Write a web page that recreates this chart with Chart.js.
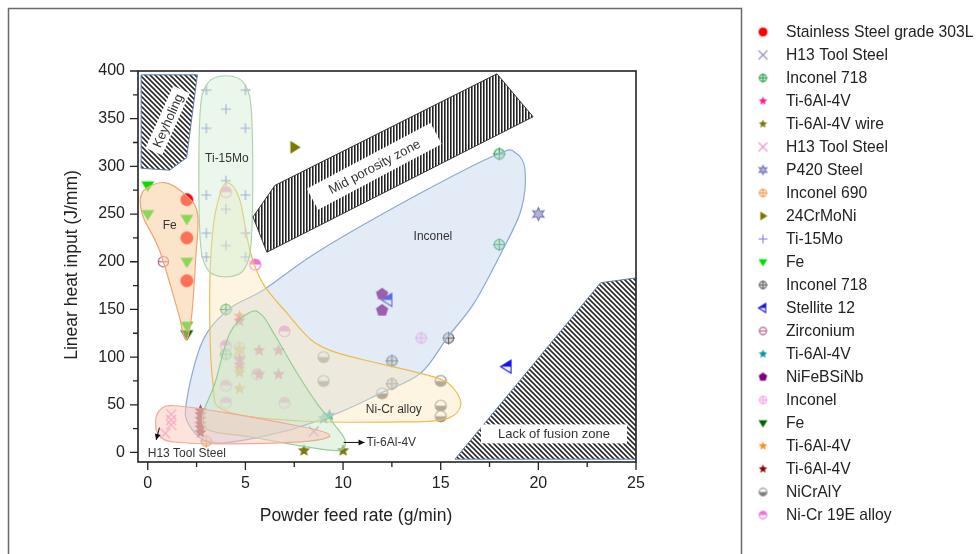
<!DOCTYPE html>
<html>
<head>
<meta charset="utf-8">
<script src="https://cdn.jsdelivr.net/npm/chart.js@4.4.1/dist/chart.umd.min.js"></script>
<style>
  html, body { margin: 0; padding: 0; background: #fff; }
  #wrap { width: 979px; height: 554px; }
</style>
</head>
<body>
<div id="wrap"><canvas id="chart" width="979" height="554"></canvas></div>
<script>
// ---- data: [powder feed rate g/min, linear heat input J/mm]
const ss303L = [[2, 265], [2, 225], [2, 180]];
const h13Lavender = [[8.5, 22]];
const inconel718Green = [[4, 150], [4, 103], [18, 313], [18, 218]];
const ti64Pink = [[4.7, 138], [4.7, 98], [4.7, 92], [5.7, 107], [6.7, 107], [5.7, 82], [6.7, 82]];
const ti64Wire = [[8, 2], [10, 2]];
const h13Pink = [[1.2, 40], [1.2, 34], [1.2, 29], [0.9, 20]];
const p420 = [[20, 250]];
const inconel690 = [[4.7, 110], [4.7, 101], [3, 12]];
const crMoNi24 = [[7.5, 320]];
const ti15Mo = [[3, 380], [5, 380], [4, 360], [3, 340], [5, 340], [4, 285], [3, 270], [5, 270],
  [4, 255], [3, 230], [5, 230], [4, 217], [3, 205], [5, 205]];
const feBright = [[0, 280], [0, 250], [2, 245], [2, 200], [2, 133]];
const inconel718Gray = [[12.5, 96], [12.5, 72], [15.4, 120]];
const stellite12 = [[12.3, 160], [18.4, 90]];
const zirconium = [[0.8, 200]];
const ti64Teal = [[9, 36], [9.3, 39]];
const niFeBSiNb = [[12, 166], [12, 149]];
const inconelPink = [[14, 120]];
const feDark = [[2, 124]];
const ti64Orange = [[4.7, 143], [4.7, 108], [4.7, 88], [4.7, 84], [4.7, 67]];
const ti64DarkRed = [[2.7, 44], [2.7, 40], [2.7, 35], [2.7, 30], [2.7, 26], [2.7, 21]];
const niCrAlY = [[9, 100], [9, 75], [12, 62], [15, 75], [15, 49], [15, 38]];
const niCr19E = [[4, 273], [5.5, 197], [7, 127], [4, 112], [4, 70], [4, 52], [7, 52], [5.6, 82]];

const seriesLabels = ['Stainless Steel grade 303L', 'H13 Tool Steel', 'Inconel 718', 'Ti-6Al-4V',
  'Ti-6Al-4V wire', 'H13 Tool Steel', 'P420 Steel', 'Inconel 690', '24CrMoNi', 'Ti-15Mo', 'Fe',
  'Inconel 718', 'Stellite 12', 'Zirconium', 'Ti-6Al-4V', 'NiFeBSiNb', 'Inconel', 'Fe',
  'Ti-6Al-4V', 'Ti-6Al-4V', 'NiCrAlY', 'Ni-Cr 19E alloy'];
const seriesData = [ss303L, h13Lavender, inconel718Green, ti64Pink, ti64Wire, h13Pink, p420,
  inconel690, crMoNi24, ti15Mo, feBright, inconel718Gray, stellite12, zirconium, ti64Teal,
  niFeBSiNb, inconelPink, feDark, ti64Orange, ti64DarkRed, niCrAlY, niCr19E];

const xTicks = [0, 5, 10, 15, 20, 25];
const yTicks = [0, 50, 100, 150, 200, 250, 300, 350, 400];
const xTitle = 'Powder feed rate (g/min)';
const yTitle = 'Linear heat input (J/mm)';

// ---- marker look per series
const markerKinds = ['circle', 'x', 'oplus', 'star', 'star', 'x', 'star6', 'oplus', 'triR', 'plus', 'triD',
  'oplus', 'triL', 'ominus', 'star', 'pentagon', 'oplus', 'triD', 'star', 'star', 'halfBottom', 'halfTop'];
const markerColors = ['#ff0000', '#8c8cc8', '#2fa552', '#ff1f8f', '#7a7a10', '#f58cc8', '#7474b8', '#f0a060',
  '#7a7a00', '#7c7cdc', '#00e000', '#666666', '#1414e0', '#b05a8a', '#009a9a', '#800080', '#f5a8e8',
  '#006400', '#ff8c1a', '#8b0000', '#808080', '#f070d8'];

// ---- annotation regions (data units)
const blobs = [
  { fill: 'rgba(190,210,236,0.45)', line: 'rgba(140,170,212,1)', pts: [[17.93, 313], [18.85, 314], [19.32, 296], [19.11, 254],
    [18.09, 209], [16.69, 156], [15.36, 121], [13.97, 83], [11.91, 62], [9.7, 41], [6.77, 21], [3.43, 10], [2.14, 28],
    [1.99, 54], [2.81, 117], [4.2, 151], [5.9, 170], [8.83, 212], [13.97, 272]] },
  { fill: 'rgba(250,232,185,0.42)', line: 'rgba(236,188,80,1)', pts: [[4.1, 283], [4.71, 265], [5.23, 212], [5.9, 177],
    [7.13, 146], [8.31, 119], [9.34, 107], [10.88, 98], [13.97, 83], [15.36, 73], [16.03, 51], [15.25, 35],
    [12.94, 32], [7.8, 33], [3.94, 44], [3.33, 75], [3.17, 160], [3.33, 233], [3.69, 270]] },
  { fill: 'rgba(198,230,198,0.45)', line: 'rgba(150,205,150,1)', pts: [[5.23, 147], [5.85, 144], [6.51, 123], [7.65, 83],
    [8.68, 51], [9.6, 28], [10.11, 12], [9.76, 2], [7.8, 7], [5.23, 16.5], [3.17, 23], [2.81, 39], [3.43, 72], [4.2, 125]] },
  { fill: 'rgba(250,200,185,0.5)', line: 'rgba(242,170,150,1)', pts: [[0.4, 30], [0.6, 44], [1.37, 49], [4.2, 41],
    [7.65, 28], [9.09, 21], [9.19, 15.5], [7.8, 11], [4.2, 9], [1.37, 11], [0.6, 17.6]] },
  { fill: 'rgba(208,238,208,0.45)', line: 'rgba(175,212,175,1)', pts: [[4, 395], [4.97, 386], [5.33, 349], [5.33, 233],
    [4.97, 193], [4, 184], [3.02, 193], [2.66, 233], [2.66, 349], [3.02, 386]] },
  { fill: 'rgba(250,205,160,0.55)', line: 'rgba(242,165,115,1)', pts: [[-0.27, 273], [0.86, 283], [2.04, 268], [2.56, 249],
    [2.45, 202], [2.25, 144], [1.94, 118], [1.53, 149], [0.6, 212], [-0.27, 249]] }
];
const zones = [
  { hatch: 'diag', line: '#5b7fa8', pts: [[-0.34, 396], [2.54, 396], [1.99, 309], [1.12, 296], [-0.34, 298]],
    text: 'Keyholing', at: [1.02, 348], angle: -66, box: [68, 18] },
  { hatch: 'vert', line: '#333', pts: [[5.39, 247], [6.51, 280], [17.88, 397], [19.73, 352], [6.1, 210]],
    text: 'Mid porosity zone', at: [11.6, 300], angle: -28, box: [140, 24] },
  { hatch: 'diag', line: '#5b7fa8', pts: [[15.73, -7], [23.19, 178], [25, 183], [25, -7]],
    text: 'Lack of fusion zone', at: [20.8, 19.5], angle: 0, box: [146, 19] }
];
const notes = [
  { text: 'Fe', at: [1.12, 238] },
  { text: 'Ti-15Mo', at: [4.05, 308] },
  { text: 'Inconel', at: [14.6, 226] },
  { text: 'Ni-Cr alloy', at: [12.6, 45] },
  { text: 'H13 Tool Steel', at: [0, -1.7], align: 'left' },
  { text: 'Ti-6Al-4V', at: [11.2, 10.5], align: 'left' }
];
const arrows = [[[10.03, 10.5], [11.1, 10.5]], [[0.6, 26], [0.43, 13]]];

// ---- marker drawing
function starPath(g, n, R, r) {
  g.beginPath();
  for (let i = 0; i < n * 2; i++) {
    const a = -Math.PI / 2 + i * Math.PI / n;
    const rr = i % 2 ? r : R;
    g.lineTo(Math.cos(a) * rr, Math.sin(a) * rr);
  }
  g.closePath();
}
function drawMarker(g, kind, color, r) {
  g.fillStyle = color; g.strokeStyle = color; g.lineWidth = 1.1;
  switch (kind) {
    case 'circle':
      g.beginPath(); g.arc(0, 0, r, 0, Math.PI * 2); g.fill(); break;
    case 'x':
      g.beginPath(); g.moveTo(-r, -r); g.lineTo(r, r); g.moveTo(r, -r); g.lineTo(-r, r); g.stroke(); break;
    case 'plus':
      g.beginPath(); g.moveTo(-r, 0); g.lineTo(r, 0); g.moveTo(0, -r); g.lineTo(0, r); g.stroke(); break;
    case 'oplus':
      g.beginPath(); g.arc(0, 0, r * 0.8, 0, Math.PI * 2);
      g.globalAlpha = 0.25; g.fill(); g.globalAlpha = 1; g.stroke();
      g.beginPath(); g.moveTo(-r, 0); g.lineTo(r, 0); g.moveTo(0, -r); g.lineTo(0, r); g.stroke(); break;
    case 'ominus':
      g.beginPath(); g.arc(0, 0, r * 0.8, 0, Math.PI * 2); g.stroke();
      g.beginPath(); g.moveTo(-r * 0.8, 0); g.lineTo(r * 0.8, 0); g.stroke(); break;
    case 'star':
      starPath(g, 5, r, r * 0.45); g.fill(); break;
    case 'star6':
      starPath(g, 6, r, r * 0.5); g.globalAlpha = 0.55; g.fill(); g.globalAlpha = 1; g.stroke(); break;
    case 'pentagon':
      g.beginPath();
      for (let i = 0; i < 5; i++) { const a = -Math.PI / 2 + i * 2 * Math.PI / 5; g.lineTo(Math.cos(a) * r, Math.sin(a) * r); }
      g.closePath(); g.fill(); break;
    case 'triR':
      g.beginPath(); g.moveTo(r, 0); g.lineTo(-r * 0.6, -r); g.lineTo(-r * 0.6, r); g.closePath(); g.fill(); break;
    case 'triD':
      g.beginPath(); g.moveTo(-r, -r * 0.6); g.lineTo(r, -r * 0.6); g.lineTo(0, r); g.closePath(); g.fill(); break;
    case 'triL':
      g.beginPath(); g.moveTo(-r, 0); g.lineTo(r * 0.6, -r); g.lineTo(r * 0.6, r); g.closePath();
      g.fillStyle = '#fff'; g.fill(); g.stroke();
      g.save(); g.clip(); g.fillStyle = color; g.fillRect(-r, -r, 2 * r, r); g.restore(); break;
    case 'halfBottom':
    case 'halfTop': {
      const top = kind === 'halfTop';
      g.beginPath(); g.arc(0, 0, r * 0.85, 0, Math.PI * 2); g.fillStyle = '#fff'; g.fill();
      g.beginPath(); g.arc(0, 0, r * 0.85, top ? Math.PI : 0, top ? 2 * Math.PI : Math.PI); g.closePath();
      g.fillStyle = color; g.fill();
      g.beginPath(); g.arc(0, 0, r * 0.85, 0, Math.PI * 2); g.strokeStyle = color; g.stroke(); break;
    }
  }
}
function markerCanvas(kind, color, r) {
  const s = Math.ceil(r * 2 + 4);
  const c = document.createElement('canvas');
  c.width = s; c.height = s;
  const g = c.getContext('2d');
  g.translate(s / 2, s / 2);
  drawMarker(g, kind, color, r);
  return c;
}
const plotMarkers = markerKinds.map((k, i) => markerCanvas(k, markerColors[i], k === 'x' || k === 'plus' ? 5 : 6.5));
const legendMarkers = markerKinds.map((k, i) => markerCanvas(k, markerColors[i], 4.5));

// ---- hatch patterns
function hatchPattern(ctx, type) {
  const c = document.createElement('canvas');
  const g = c.getContext('2d');
  if (type === 'vert') {
    c.width = 3; c.height = 3;
    g.fillStyle = '#fff'; g.fillRect(0, 0, 3, 3);
    g.fillStyle = '#222'; g.fillRect(0, 0, 1.6, 3);
  } else {
    c.width = 5; c.height = 5;
    g.fillStyle = '#fff'; g.fillRect(0, 0, 5, 5);
    g.strokeStyle = '#2a2a2a'; g.lineWidth = 1.6;
    g.beginPath();
    g.moveTo(-1, -1); g.lineTo(6, 6);
    g.moveTo(-1, 4); g.lineTo(1, 6);
    g.moveTo(4, -1); g.lineTo(6, 1);
    g.stroke();
  }
  return ctx.createPattern(c, 'repeat');
}

function smoothPath(ctx, p) {
  const n = p.length;
  ctx.beginPath();
  ctx.moveTo(p[0][0], p[0][1]);
  for (let i = 0; i < n; i++) {
    const p0 = p[(i - 1 + n) % n], p1 = p[i], p2 = p[(i + 1) % n], p3 = p[(i + 2) % n];
    ctx.bezierCurveTo(p1[0] + (p2[0] - p0[0]) / 6, p1[1] + (p2[1] - p0[1]) / 6,
      p2[0] - (p3[0] - p1[0]) / 6, p2[1] - (p3[1] - p1[1]) / 6, p2[0], p2[1]);
  }
  ctx.closePath();
}

const FONT = '"Liberation Sans", Arial, sans-serif';

const overlay = {
  id: 'overlay',
  afterDatasetsDraw(chart) {
    const { ctx, chartArea: a, scales: { x, y } } = chart;
    const px = p => [x.getPixelForValue(p[0]), y.getPixelForValue(p[1])];
    ctx.save();
    ctx.beginPath(); ctx.rect(a.left, a.top, a.right - a.left, a.bottom - a.top); ctx.clip();

    blobs.forEach(b => {
      smoothPath(ctx, b.pts.map(px));
      ctx.fillStyle = b.fill; ctx.fill();
      ctx.strokeStyle = b.line; ctx.lineWidth = 1.2; ctx.stroke();
    });

    zones.forEach(z => {
      ctx.beginPath();
      z.pts.map(px).forEach(p => ctx.lineTo(p[0], p[1]));
      ctx.closePath();
      ctx.fillStyle = hatchPattern(ctx, z.hatch); ctx.fill();
      ctx.strokeStyle = z.line; ctx.lineWidth = 1; ctx.stroke();
      const [tx, ty] = px(z.at);
      ctx.save();
      ctx.translate(tx, ty); ctx.rotate(z.angle * Math.PI / 180);
      ctx.fillStyle = '#fff';
      ctx.fillRect(-z.box[0] / 2, -z.box[1] / 2, z.box[0], z.box[1]);
      ctx.fillStyle = '#333'; ctx.font = '13px ' + FONT;
      ctx.textAlign = 'center'; ctx.textBaseline = 'middle';
      ctx.fillText(z.text, 0, 1);
      ctx.restore();
    });

    ctx.fillStyle = '#333'; ctx.font = '12px ' + FONT; ctx.textBaseline = 'middle';
    notes.forEach(n => {
      const [tx, ty] = px(n.at);
      ctx.textAlign = n.align || 'center';
      ctx.fillText(n.text, tx, ty);
    });

    ctx.strokeStyle = '#111'; ctx.fillStyle = '#111'; ctx.lineWidth = 1;
    arrows.forEach(ar => {
      const [p0, p1] = ar.map(px);
      ctx.beginPath(); ctx.moveTo(p0[0], p0[1]); ctx.lineTo(p1[0], p1[1]); ctx.stroke();
      const ang = Math.atan2(p1[1] - p0[1], p1[0] - p0[0]);
      ctx.save(); ctx.translate(p1[0], p1[1]); ctx.rotate(ang);
      ctx.beginPath(); ctx.moveTo(0, 0); ctx.lineTo(-6, -3); ctx.lineTo(-6, 3); ctx.closePath(); ctx.fill();
      ctx.restore();
    });
    ctx.restore();
  },
  afterDraw(chart) {
    const { ctx, chartArea: a, scales: { x, y } } = chart;
    ctx.save();
    // outer panel border
    ctx.strokeStyle = '#6a6a6a'; ctx.lineWidth = 1.5;
    ctx.strokeRect(8.5, 8.5, 733, 560);
    // plot frame
    ctx.strokeStyle = '#222'; ctx.lineWidth = 1.6;
    ctx.strokeRect(a.left, a.top, a.right - a.left, a.bottom - a.top);
    // ticks (major + minor, outward)
    ctx.lineWidth = 1.3;
    ctx.beginPath();
    xTicks.forEach((v, i) => {
      const p = x.getPixelForValue(v);
      ctx.moveTo(p, a.bottom); ctx.lineTo(p, a.bottom + 8);
      if (i < xTicks.length - 1) {
        const m = x.getPixelForValue((v + xTicks[i + 1]) / 2);
        ctx.moveTo(m, a.bottom); ctx.lineTo(m, a.bottom + 5);
      }
    });
    yTicks.forEach((v, i) => {
      const p = y.getPixelForValue(v);
      ctx.moveTo(a.left, p); ctx.lineTo(a.left - 8, p);
      if (i < yTicks.length - 1) {
        const m = y.getPixelForValue((v + yTicks[i + 1]) / 2);
        ctx.moveTo(a.left, m); ctx.lineTo(a.left - 5, m);
      }
    });
    ctx.stroke();
    // axis titles
    ctx.fillStyle = '#222'; ctx.font = '17.5px ' + FONT;
    ctx.textAlign = 'center'; ctx.textBaseline = 'middle';
    ctx.fillText(xTitle, 356, 516);
    ctx.save(); ctx.translate(72, 265); ctx.rotate(-Math.PI / 2);
    ctx.fillText(yTitle, 0, 0);
    ctx.restore();
    // legend
    ctx.font = '15.7px ' + FONT; ctx.fillStyle = '#222';
    ctx.textAlign = 'left'; ctx.textBaseline = 'middle';
    chart.data.datasets.forEach((ds, i) => {
      const ly = 32 + 23 * i;
      const mk = legendMarkers[i];
      ctx.drawImage(mk, 763 - mk.width / 2, ly - mk.height / 2);
      ctx.fillText(ds.label, 786, ly + 1);
    });
    ctx.restore();
  }
};

new Chart(document.getElementById('chart').getContext('2d'), {
  type: 'scatter',
  data: {
    datasets: seriesData.map((d, i) => ({
      label: seriesLabels[i],
      data: d.map(([px, py]) => ({ x: px, y: py })),
      pointStyle: plotMarkers[i],
      pointRadius: 6,
      showLine: false
    }))
  },
  options: {
    responsive: false,
    animation: false,
    events: [],
    layout: { padding: { left: 0, top: 71, right: 343, bottom: 0 } },
    scales: {
      x: {
        type: 'linear', min: -0.5, max: 25,
        grid: { display: false, drawTicks: false },
        border: { display: false },
        ticks: { stepSize: 5, includeBounds: false, padding: 12, color: '#222', font: { size: 16, family: FONT } },
        afterFit(s) { s.height = 92; }
      },
      y: {
        type: 'linear', min: -10, max: 400,
        grid: { display: false, drawTicks: false },
        border: { display: false },
        ticks: { stepSize: 50, includeBounds: false, padding: 13, color: '#222', font: { size: 16, family: FONT } },
        afterFit(s) { s.width = 138; }
      }
    },
    plugins: { legend: { display: false }, tooltip: { enabled: false } }
  },
  plugins: [overlay]
});
</script>
</body>
</html>
